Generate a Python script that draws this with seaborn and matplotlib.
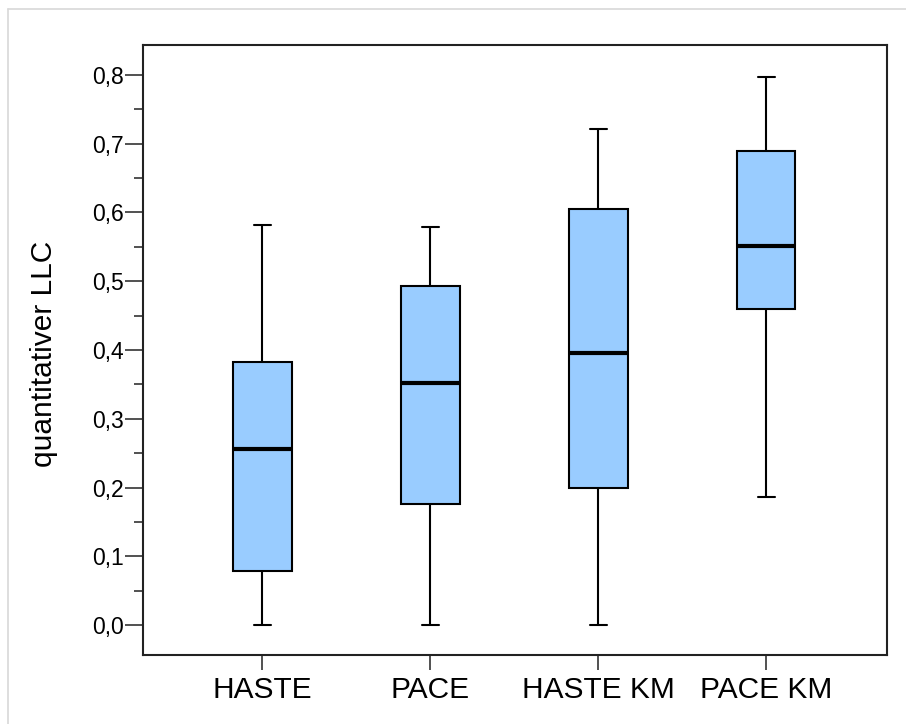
import numpy as np
import pandas as pd
import matplotlib
matplotlib.use("Agg")
import matplotlib.pyplot as plt
from matplotlib.lines import Line2D
from matplotlib.ticker import MultipleLocator, FuncFormatter
import seaborn as sns

# Five-number summaries
categories = ["HASTE", "PACE", "HASTE KM", "PACE KM"]
mins = [0.0, 0.0, 0.0, 0.186]
q1s = [0.079, 0.176, 0.199, 0.460]
medians = [0.256, 0.352, 0.396, 0.551]
q3s = [0.383, 0.493, 0.605, 0.689]
maxs = [0.582, 0.579, 0.722, 0.797]
y_label = "quantitativer LLC"
y_ticks = [0.0, 0.1, 0.2, 0.3, 0.4, 0.5, 0.6, 0.7, 0.8]

rows = []
for c, a, b, m, d, e in zip(categories, mins, q1s, medians, q3s, maxs):
    for v in (a, b, m, d, e):
        rows.append({"group": c, "value": v})
df = pd.DataFrame(rows)

sns.set_theme(style="white")
plt.rcParams["font.family"] = ["Liberation Sans", "DejaVu Sans"]
plt.rcParams["text.color"] = "black"
plt.rcParams["xtick.color"] = "black"
plt.rcParams["ytick.color"] = "black"
plt.rcParams["axes.labelcolor"] = "black"

W, H = 906, 724
fig = plt.figure(figsize=(W / 100, H / 100), dpi=100)
ax = fig.add_axes([143 / W, 1 - 655 / H, (887 - 143) / W, (655 - 45) / H])

sns.boxplot(data=df, x="group", y="value", order=categories, ax=ax,
            width=0.35, whis=np.inf, color="#99CCFF", saturation=1,
            linecolor="black", linewidth=1.5, fliersize=0,
            medianprops={"linewidth": 3.0, "color": "black"},
            capwidths=0.1)

ax.set_xlim(-0.711, 3.72)
ax.set_ylim(-0.0436, 0.8436)
ax.set_yticks(y_ticks)
ax.yaxis.set_minor_locator(MultipleLocator(0.05))
ax.yaxis.set_major_formatter(FuncFormatter(lambda v, p: f"{v:.1f}".replace(".", ",")))

for s in ax.spines.values():
    s.set_linewidth(1.5)
    s.set_color("#222222")

ax.tick_params(axis="y", which="major", length=13, width=1.1, pad=1,
               labelsize=16.5, color="#222222", direction="out", left=True)
ax.tick_params(axis="y", which="minor", length=6.5, width=1.1,
               color="#222222", direction="out", left=True)
ax.tick_params(axis="x", which="major", length=10.8, width=1.1, pad=4,
               labelsize=21.5, color="#222222", direction="out", bottom=True)

ax.set_xlabel("")
ax.set_ylabel(y_label, fontsize=21.5, va="center")
ax.yaxis.set_label_coords((44 - 143) / 744, (655 - 354) / 610)

# light grey outer frame
fig.add_artist(Line2D([8 / W, 1.0], [1 - 9 / H, 1 - 9 / H], color="#D8D8D8", lw=1.2,
                      transform=fig.transFigure))
fig.add_artist(Line2D([8 / W, 8 / W], [0.0, 1 - 9 / H], color="#D8D8D8", lw=1.2,
                      transform=fig.transFigure))

fig.savefig("out.png", dpi=100)
